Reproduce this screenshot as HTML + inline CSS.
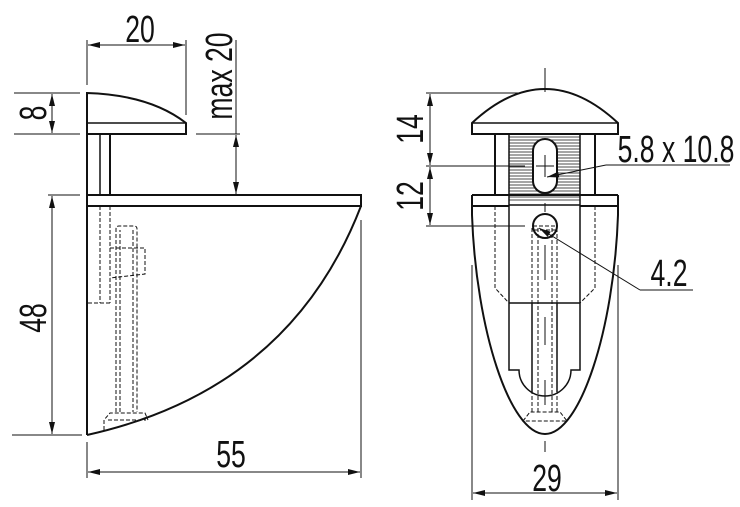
<!DOCTYPE html>
<html><head><style>
html,body{margin:0;padding:0;background:#fff;}
svg{display:block;}
text{font-family:"Liberation Sans",sans-serif;fill:#111;}
</style></head><body>
<svg width="740" height="507" viewBox="0 0 740 507" xmlns="http://www.w3.org/2000/svg">
<defs>
<marker id="a" viewBox="0 0 12 6" refX="12" refY="3" markerWidth="12" markerHeight="6" orient="auto-start-reverse" markerUnits="userSpaceOnUse"><path d="M0,0 L12,3 L0,6 Z" fill="#111"/></marker>
</defs>
<g stroke="#111" fill="none" stroke-width="2">
<path d="M87,93 Q150,95 186,123 L186,134 L87,134 Z"/>
<line x1="87" y1="123" x2="186" y2="123" stroke-width="1.5"/>
<line x1="87" y1="134" x2="87" y2="435"/>
<line x1="100" y1="134" x2="100" y2="195" stroke-width="1.5"/>
<line x1="110" y1="134" x2="110" y2="195"/>
<path d="M87,195 L361,195 L361,206 L87,206"/>
<path d="M361,206 Q290,390 87,435"/>
</g>
<g stroke="#111" fill="none" stroke-width="1" stroke-dasharray="4,2">
<path d="M100,206 L100,303 M110,206 L110,303 M88,303 L110,303"/>
<path d="M116,412 L116,229 Q116,226 119,226 L134,226 Q137,226 137,229 L137,412"/>
<path d="M120,412 L120,230 M133,230 L133,412"/>
<path d="M110,248 L145,248 L145,274 L110,278"/>
<path d="M104,430 L104,420 L110,413 L145,413 L148,420"/>
<path d="M108,420 L146,420"/>
</g>
<g stroke="#111" fill="none" stroke-width="1">
<line x1="87" y1="40" x2="87" y2="85"/>
<line x1="186" y1="40" x2="186" y2="115"/>
<line x1="88" y1="45" x2="185" y2="45" marker-start="url(#a)" marker-end="url(#a)"/>
<line x1="236" y1="40" x2="236" y2="134"/>
<line x1="196" y1="134" x2="240" y2="134"/>
<line x1="236" y1="135" x2="236" y2="194" marker-start="url(#a)" marker-end="url(#a)"/>
<line x1="14" y1="93" x2="80" y2="93"/>
<line x1="14" y1="134" x2="80" y2="134"/>
<line x1="52" y1="94" x2="52" y2="133" marker-start="url(#a)" marker-end="url(#a)"/>
<line x1="48" y1="195" x2="80" y2="195"/>
<line x1="12" y1="435" x2="82" y2="435"/>
<line x1="52" y1="196" x2="52" y2="434" marker-start="url(#a)" marker-end="url(#a)"/>
<line x1="87" y1="442" x2="87" y2="478"/>
<line x1="361" y1="220" x2="361" y2="478"/>
<line x1="88" y1="472" x2="360" y2="472" marker-start="url(#a)" marker-end="url(#a)"/>
</g>
<text transform="translate(140,42) scale(0.7,1)" font-size="38" text-anchor="middle">20</text>
<text transform="translate(232,76) rotate(-90) scale(0.7,1)" font-size="38" text-anchor="middle">max 20</text>
<text transform="translate(46,113) rotate(-90) scale(0.7,1)" font-size="38" text-anchor="middle">8</text>
<text transform="translate(46,318) rotate(-90) scale(0.7,1)" font-size="38" text-anchor="middle">48</text>
<text transform="translate(231,467) scale(0.7,1)" font-size="38" text-anchor="middle">55</text>

<g stroke="#111" stroke-width="0.8">
<path d="M509,137 H580 M509,140 H580 M509,143 H580 M509,146 H580 M509,149 H580 M509,152 H580 M509,155 H580 M509,158 H580 M509,161 H580 M509,164 H580 M509,167 H580 M509,170 H580 M509,173 H580 M509,176 H580 M509,179 H580 M509,182 H580 M509,185 H580 M509,188 H580 M509,191 H580 M509,194 H580 M509,197 H580 M509,200 H580"/>
</g>
<g stroke="#111" fill="none" stroke-width="2">
<path d="M472,123 Q545,55 618,123 L618,134 L472,134 Z" fill="#fff"/>
<line x1="472" y1="123" x2="618" y2="123" stroke-width="1.5"/>
<line x1="495" y1="134" x2="495" y2="195"/>
<line x1="595" y1="134" x2="595" y2="195"/>
<line x1="509" y1="134" x2="509" y2="206" stroke-width="1.5"/>
<line x1="580" y1="134" x2="580" y2="206" stroke-width="1.5"/>
<rect x="533" y="139" width="24" height="54" rx="12" fill="#fff"/>
<path d="M472,195 H618 M472,206 H509 M580,206 H618"/>
<line x1="509" y1="205" x2="580" y2="205" stroke-width="1.5"/>
<path d="M472,195 L472,215 C476,330 510,434 545,434 C580,434 614,330 618,215 L618,195"/>
<path d="M509,206 L509,370 L519,370 A26,26 0 0 0 571,370 L580,370 L580,206" stroke-width="1.5"/>
<line x1="509" y1="303" x2="580" y2="303" stroke-width="1.5"/>
<line x1="532" y1="303" x2="532" y2="392" stroke-width="1.5"/>
<line x1="557" y1="303" x2="557" y2="392" stroke-width="1.5"/>
<circle cx="545" cy="226" r="12" fill="#fff"/>
</g>
<g stroke="#111" fill="none" stroke-width="1" stroke-dasharray="4,2">
<path d="M495,206 L495,288 L509,303 M595,206 L595,288 L580,303"/>
<path d="M532,228 L532,412 M538,228 L538,412 M552,228 L552,412 M557,228 L557,412"/>
<path d="M533,226 L557,226 M534,230 L556,230"/>
<path d="M523,421 L530,412 L560,412 L567,421 Z"/>
</g>
<g stroke="#111" fill="none" stroke-width="1">
<path d="M545,68 V92 M545,203 V212 M545,245 V280 M545,317 V345 M545,380 V405 M545,441 V452" />
<line x1="536" y1="166" x2="554" y2="166"/>
<line x1="545" y1="155" x2="545" y2="177"/>
<line x1="426" y1="93" x2="520" y2="93"/>
<line x1="426" y1="166" x2="525" y2="166"/>
<line x1="426" y1="226" x2="525" y2="226"/>
<line x1="430" y1="94" x2="430" y2="165" marker-start="url(#a)" marker-end="url(#a)"/>
<line x1="430" y1="167" x2="430" y2="225" marker-start="url(#a)" marker-end="url(#a)"/>
<line x1="606" y1="165" x2="547" y2="177" marker-end="url(#a)"/>
<line x1="606" y1="165" x2="730" y2="165"/>
<line x1="640" y1="290" x2="539" y2="228" marker-end="url(#a)"/>
<line x1="640" y1="290" x2="693" y2="290"/>
<line x1="472" y1="265" x2="472" y2="500"/>
<line x1="618" y1="265" x2="618" y2="500"/>
<line x1="473" y1="493" x2="617" y2="493" marker-start="url(#a)" marker-end="url(#a)"/>
</g>
<text transform="translate(423,129) rotate(-90) scale(0.7,1)" font-size="38" text-anchor="middle">14</text>
<text transform="translate(423,196) rotate(-90) scale(0.7,1)" font-size="38" text-anchor="middle">12</text>
<text transform="translate(676,162) scale(0.7,1)" font-size="38" text-anchor="middle">5.8 x 10.8</text>
<text transform="translate(669,286) scale(0.7,1)" font-size="38" text-anchor="middle">4.2</text>
<text transform="translate(547,491) scale(0.7,1)" font-size="38" text-anchor="middle">29</text>
</svg>
</body></html>
